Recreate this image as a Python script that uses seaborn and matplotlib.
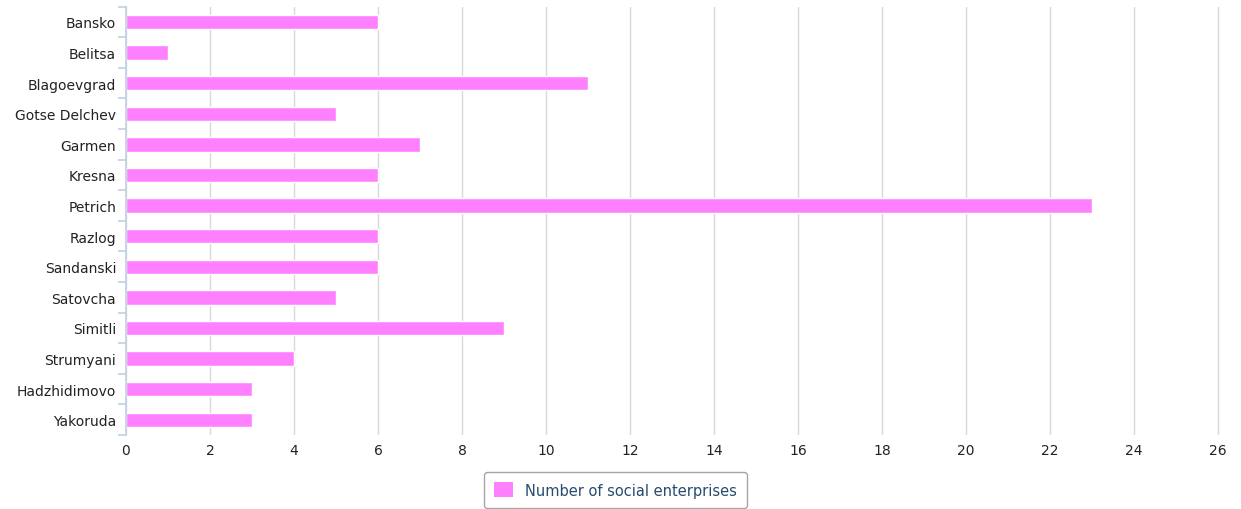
import numpy as np
import pandas as pd
import matplotlib as mpl
import matplotlib.pyplot as plt
import seaborn as sns
from matplotlib.patches import Patch

towns = ['Bansko', 'Belitsa', 'Blagoevgrad', 'Gotse Delchev', 'Garmen', 'Kresna',
         'Petrich', 'Razlog', 'Sandanski', 'Satovcha', 'Simitli', 'Strumyani',
         'Hadzhidimovo', 'Yakoruda']
counts = [6, 1, 11, 5, 7, 6, 23, 6, 6, 5, 9, 4, 3, 3]
series_name = 'Number of social enterprises'
xticks = list(range(0, 27, 2))

df = pd.DataFrame({'Town': towns, 'Count': counts})

sns.set_style('white')
mpl.rcParams['font.family'] = ['DejaVu Sans']

bar_color = '#ff80ff'
grid_color = '#d8d8d8'
axis_color = '#c0d0e0'
text_color = '#222222'

fig = plt.figure(figsize=(12.41, 5.10), dpi=100)
ax = fig.add_axes([0.1015, 0.145, 0.8834, 0.84])

sns.barplot(data=df, y='Town', x='Count', orient='h', color=bar_color,
            width=0.47, saturation=1, ax=ax, zorder=3)

ax.set_xlim(0, 26.1)
ax.set_ylim(len(towns) - 0.5, -0.5)
ax.set_xticks(xticks)
ax.set_xlabel('')
ax.set_ylabel('')

ax.grid(axis='x', color=grid_color, linewidth=1, zorder=0)
for s in ['top', 'right', 'bottom']:
    ax.spines[s].set_visible(False)
ax.spines['left'].set_color(axis_color)
ax.spines['left'].set_linewidth(1.2)
ax.spines['left'].set_zorder(4)

ax.tick_params(axis='x', length=0, labelsize=10, colors=text_color, pad=6)
ax.tick_params(axis='y', which='major', left=False, length=0, labelsize=10,
               colors=text_color, pad=7)
ax.set_yticks(np.arange(len(towns) + 1) - 0.5, minor=True)
ax.tick_params(axis='y', which='minor', left=True, length=6, color=axis_color, width=1.2)

handles = [Patch(facecolor=bar_color, edgecolor='none', label=series_name)]
leg = fig.legend(handles=handles, loc='center', bbox_to_anchor=(0.496, 0.037),
                 fontsize=10.5, frameon=True, fancybox=True, handlelength=1.3,
                 handleheight=1.2, borderpad=0.7, labelcolor='#274b6d')
leg.get_frame().set_edgecolor('#909090')
leg.get_frame().set_linewidth(1)

fig.savefig('out.png', dpi=100)
